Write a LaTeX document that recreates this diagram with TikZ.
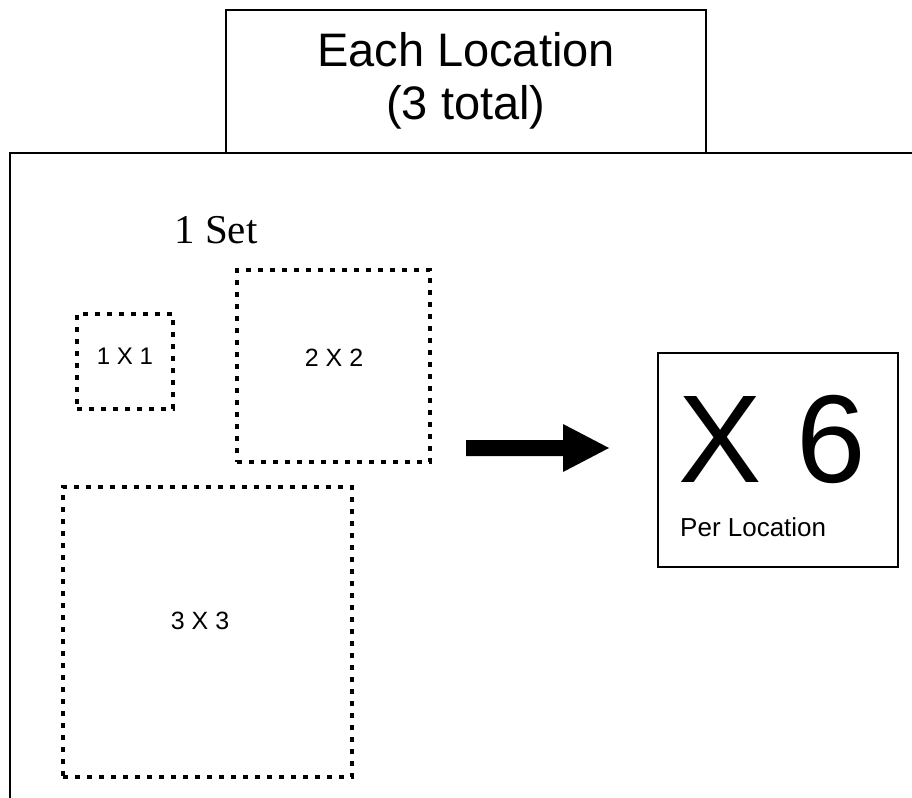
\documentclass[tikz,border=0pt]{standalone}
\usepackage{fontspec}
\setmainfont{Liberation Sans}
\newfontfamily\timesfont{Liberation Serif}
\begin{document}
\begin{tikzpicture}[x=1pt,y=-1pt,
  solidbox/.style={draw=black, line width=#1, fill=white, inner sep=0pt},
  dotbox/.style={draw=black, line width=4.8pt, dash pattern=on 4.8pt off 7.2pt, line cap=butt, inner sep=0pt},
  txt/.style={inner sep=0pt}
]
\useasboundingbox (0,0) rectangle (912,797);
\begin{scope}
\clip (0,0) rectangle (912,797);
% big outer box (extends beyond the picture right and bottom)
\draw[line width=2.6pt] (10,820) -- (10,153) -- (930,153);
\end{scope}
% top title box
\draw[line width=2pt] (226,153) -- (226,10) -- (706,10) -- (706,153);
\node[txt, anchor=base, font=\fontsize{47}{53}\selectfont] (each) at (466,67) {Each Location};
\node[txt, anchor=base, font=\fontsize{47}{53}\selectfont] (total) at (466,120) {(3 total)};
% set label
\node[txt, anchor=base, font=\timesfont\fontsize{41}{48}\selectfont] (set) at (216,243) {1 Set};
% dotted squares
\node[dotbox, minimum width=96pt, minimum height=95pt] (one) at (125,361.5) {};
\node[txt, font=\fontsize{24}{28}\selectfont] (onet) at (125,356) {1 X 1};
\node[dotbox, minimum width=193pt, minimum height=192pt] (two) at (333.5,366) {};
\node[txt, font=\fontsize{25}{30}\selectfont] (twot) at (334,358) {2 X 2};
\node[dotbox, minimum width=289pt, minimum height=290pt] (three) at (207.5,632) {};
\node[txt, font=\fontsize{25}{30}\selectfont] (threet) at (200,621) {3 X 3};
% block arrow
\fill[black] (466,440) -- (563,440) -- (563,424) -- (609,448) -- (563,472) -- (563,456) -- (466,456) -- cycle;
% result box
\node[solidbox=1.5pt, minimum width=240pt, minimum height=214pt] (res) at (778,460) {};
\node[txt, anchor=base, font=\fontsize{125}{130}\selectfont] (x6) at (772,482) {X 6};
\node[txt, anchor=base west, font=\fontsize{26}{30}\selectfont] (per) at (680,536) {Per Location};
\end{tikzpicture}
\end{document}
